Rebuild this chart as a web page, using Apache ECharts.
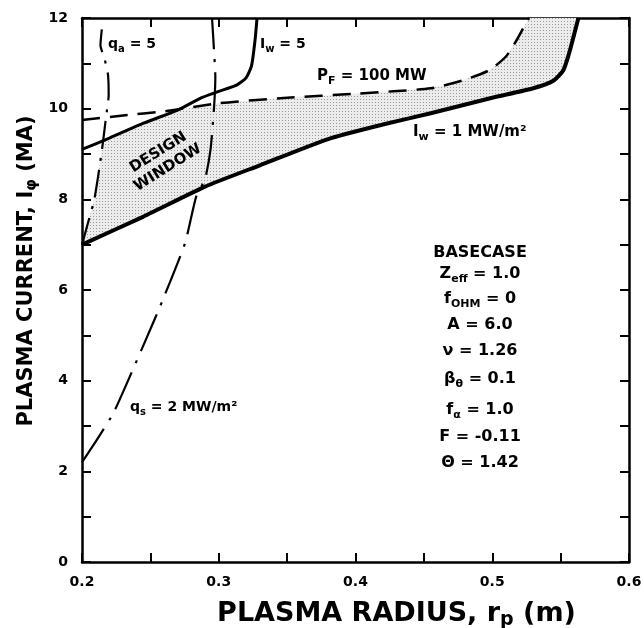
<!DOCTYPE html>
<html>
<head>
<meta charset="utf-8">
<script src="https://cdn.jsdelivr.net/npm/echarts@6/dist/echarts.min.js"></script>
<style>
  html, body { margin: 0; padding: 0; background: #fff; }
  #chart { width: 644px; height: 628px; }
</style>
</head>
<body>
<div id="chart"></div>
<script>
  // tick labels
  const xTickLabels = ['0.2', '0.3', '0.4', '0.5', '0.6']
  const yTickLabels = ['0', '2', '4', '6', '8', '10', '12']

  // curves, [r_p (m), I_phi (MA)]
  const wallLoad5 = [[0.2, 9.1], [0.22, 9.35], [0.245, 9.68], [0.27, 9.97], [0.288, 10.25], [0.3, 10.38],
    [0.313, 10.52], [0.32, 10.68], [0.324, 10.95], [0.3265, 11.5], [0.328, 12]]
  const fusionPower = [[0.2, 9.75], [0.23, 9.85], [0.26, 9.94], [0.3, 10.12], [0.35, 10.24], [0.4, 10.33],
    [0.455, 10.45], [0.479, 10.63], [0.498, 10.85], [0.51, 11.15], [0.518, 11.52], [0.524, 11.85], [0.527, 12]]
  const wallLoad1 = [[0.2, 7.0], [0.245, 7.62], [0.29, 8.28], [0.33, 8.75], [0.38, 9.33], [0.42, 9.65],
    [0.455, 9.9], [0.5, 10.24], [0.53, 10.45], [0.545, 10.62], [0.552, 10.85], [0.556, 11.2], [0.56, 11.65], [0.563, 12]]
  const heatFlux = [[0.2, 2.2], [0.212, 2.75], [0.2232, 3.3], [0.2475, 4.96], [0.2585, 5.74], [0.2753, 7.03],
    [0.2835, 8.06], [0.29, 8.45], [0.294, 9.1], [0.2965, 10.0], [0.2975, 10.7], [0.2965, 11.3], [0.2951, 12]]
  const safetyFactor = [[0.2, 7.0], [0.205, 7.55], [0.209, 8.0], [0.2125, 8.65], [0.2155, 9.3], [0.2175, 9.8],
    [0.2195, 10.3], [0.219, 10.75], [0.2165, 11.1], [0.2135, 11.4], [0.2145, 11.75]]
  const designWindow = [[0.2, 7.0], [0.205, 7.55], [0.209, 8.0], [0.2125, 8.65], [0.2155, 9.3], [0.22, 9.35],
    [0.245, 9.68], [0.27, 9.97], [0.3, 10.12], [0.35, 10.24], [0.4, 10.33], [0.455, 10.45], [0.479, 10.63],
    [0.498, 10.85], [0.51, 11.15], [0.518, 11.52], [0.524, 11.85], [0.527, 12], [0.563, 12], [0.56, 11.65],
    [0.556, 11.2], [0.552, 10.85], [0.545, 10.62], [0.53, 10.45], [0.5, 10.24], [0.455, 9.9], [0.42, 9.65],
    [0.38, 9.33], [0.33, 8.75], [0.29, 8.28], [0.245, 7.62]]

  // basecase parameters
  const baseCase = [
    '{t|BASECASE}',
    '{t|Z}{s|eff}{t| = 1.0}',
    '{t|f}{s|OHM}{t| = 0}',
    '{t|A = 6.0}',
    '{t|ν = 1.26}',
    '{t|β}{s|θ}{t| = 0.1}',
    '{t|f}{s|α}{t| = 1.0}',
    '{t|F = -0.11}',
    '{t|Θ = 1.42}',
  ]
  const baseCaseY = [253, 274, 299, 325, 351, 379, 410, 437, 463]

  const FONT = 'DejaVu Sans'

  // stipple for the design window
  const dots = document.createElement('canvas')
  dots.width = 3
  dots.height = 3
  const dctx = dots.getContext('2d')
  dctx.fillStyle = '#ececec'
  dctx.fillRect(0, 0, 3, 3)
  dctx.fillStyle = '#9a9a9a'
  dctx.fillRect(0, 0, 1, 1)

  const richText = (size) => ({
    t: { fontFamily: FONT, fontWeight: 'bold', fontSize: size, color: '#000', lineHeight: size + 6 },
    s: { fontFamily: FONT, fontWeight: 'bold', fontSize: Math.round(size * 0.7), color: '#000', lineHeight: size + 6, verticalAlign: 'bottom' },
  })

  const note = (x, y, text, size) => ({
    type: 'text',
    x: x,
    y: y,
    z: 10,
    silent: true,
    style: { text: text, rich: richText(size), align: 'left', verticalAlign: 'middle' },
  })

  const curve = (data, width, type) => ({
    type: 'line',
    data: data,
    showSymbol: false,
    smooth: 0.2,
    silent: true,
    z: 3,
    lineStyle: { color: '#000', width: width, type: type, cap: 'butt' },
  })

  const tickFormatter = (labels) => (v) => {
    const s = String(Math.round(v * 100) / 100)
    return labels.includes(s) ? s : ''
  }

  const axisCommon = {
    type: 'value',
    splitLine: { show: false },
    axisLine: { show: true, onZero: false, lineStyle: { color: '#000', width: 2.5 } },
    axisTick: { show: true, inside: true, length: 9, lineStyle: { color: '#000', width: 2 } },
  }

  const labelStyle = {
    color: '#000',
    fontFamily: FONT,
    fontWeight: 'bold',
    fontSize: 14,
    showMinLabel: true,
    showMaxLabel: true,
  }

  const chart = echarts.init(document.getElementById('chart'), null, { renderer: 'canvas' })

  chart.setOption({
    animation: false,
    backgroundColor: '#fff',
    grid: { left: 82, right: 15, top: 18, bottom: 66, containLabel: false, outerBoundsMode: 'none' },
    xAxis: [
      {
        ...axisCommon,
        position: 'bottom',
        min: 0.2,
        max: 0.6,
        interval: 0.05,
        axisLabel: { ...labelStyle, margin: 13, formatter: tickFormatter(xTickLabels) },
        name: '{t|PLASMA RADIUS, r}{s|p}{t| (m)}',
        nameLocation: 'middle',
        nameGap: 35,
        nameMoveOverlap: false,
        nameTextStyle: { rich: richText(27), padding: [0, 0, 0, 82] },
      },
      {
        ...axisCommon,
        position: 'top',
        min: 0.2,
        max: 0.6,
        interval: 0.05,
        axisLabel: { show: false },
      },
    ],
    yAxis: [
      {
        ...axisCommon,
        position: 'left',
        min: 0,
        max: 12,
        interval: 1,
        axisLabel: { ...labelStyle, margin: 14, formatter: tickFormatter(yTickLabels) },
        name: '{t|PLASMA CURRENT, I}{s|φ}{t| (MA)}',
        nameLocation: 'middle',
        nameGap: 42,
        nameMoveOverlap: false,
        nameTextStyle: { rich: richText(21), padding: [0, 0, 0, 38] },
      },
      {
        ...axisCommon,
        position: 'right',
        min: 0,
        max: 12,
        interval: 1,
        axisLabel: { show: false },
      },
    ],
    series: [
      {
        type: 'custom',
        coordinateSystem: 'cartesian2d',
        silent: true,
        z: 1,
        data: designWindow,
        encode: { x: 0, y: 1 },
        renderItem: (params, api) => {
          if (params.dataIndex !== 0) return
          return {
            type: 'polygon',
            shape: { points: designWindow.map((p) => api.coord(p)) },
            style: { fill: { image: dots, repeat: 'repeat' } },
          }
        },
      },
      curve(wallLoad1, 4, 'solid'),
      curve(wallLoad5, 3, 'solid'),
      curve(fusionPower, 2.5, [18, 10]),
      curve(heatFlux, 2.2, [40, 10, 3, 10]),
      curve(safetyFactor, 2.2, [28, 9, 3, 9]),
    ],
    graphic: [
      note(108, 44, '{t|q}{s|a}{t| = 5}', 14),
      note(260, 44, '{t|I}{s|w}{t| = 5}', 14),
      note(317, 76, '{t|P}{s|F}{t| = 100 MW}', 15),
      note(413, 132, '{t|I}{s|w}{t| = 1 MW/m²}', 15),
      note(130, 407, '{t|q}{s|s}{t| = 2 MW/m²}', 14),
      {
        type: 'text',
        x: 163,
        y: 160,
        rotation: (32 * Math.PI) / 180,
        z: 10,
        silent: true,
        style: {
          text: 'DESIGN\nWINDOW',
          font: `bold 15px "${FONT}"`,
          fill: '#000',
          align: 'center',
          verticalAlign: 'middle',
          lineHeight: 18,
        },
      },
      ...baseCase.map((line, i) => ({
        type: 'text',
        x: 480,
        y: baseCaseY[i],
        z: 10,
        silent: true,
        style: { text: line, rich: richText(16), align: 'center', verticalAlign: 'middle' },
      })),
    ],
  })
</script>
</body>
</html>
